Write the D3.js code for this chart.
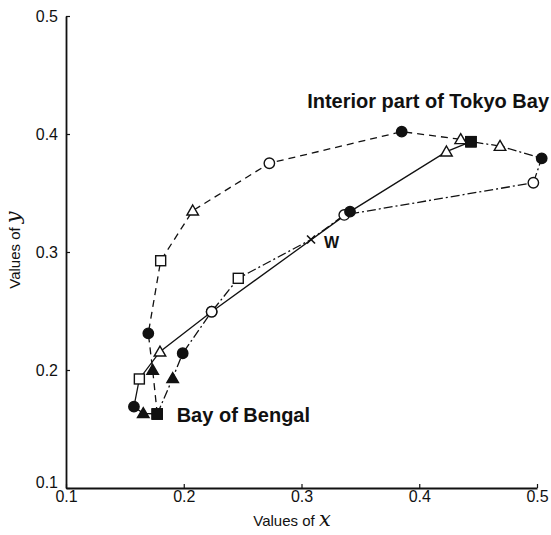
<!DOCTYPE html>
<html>
<head>
<meta charset="utf-8">
<script src="https://cdn.jsdelivr.net/npm/d3@7"></script>
<style>
  html, body { margin: 0; padding: 0; background: #fff; }
  svg { display: block; }
  text { font-family: "Liberation Sans", Arial, sans-serif; fill: #111; }
</style>
</head>
<body>
<div id="chart"></div>
<script>
// ---- data ----
const xTicks = [0.1, 0.2, 0.3, 0.4, 0.5];
const yTicks = [0.1, 0.2, 0.3, 0.4, 0.5];

// solid path (x, y, marker)
const solidX = [0.1775, 0.1656, 0.1577, 0.1623, 0.1798, 0.2237, 0.3412, 0.4231, 0.4439];
const solidY = [0.1627, 0.1633, 0.1689, 0.1924, 0.2155, 0.2494, 0.3342, 0.3850, 0.3935];
const solidM = ["fs", "ft", "fc", "os", "ot", "oc", "fc", "ot", "fs"];

// dashed path
const dashedX = [0.1775, 0.1736, 0.1699, 0.1804, 0.2076, 0.2727, 0.3851, 0.4352, 0.4439];
const dashedY = [0.1627, 0.2000, 0.2311, 0.2926, 0.3350, 0.3752, 0.4020, 0.3955, 0.3935];
const dashedM = ["fs", "ft", "fc", "os", "ot", "oc", "fc", "ot", "fs"];

// dash-dot path
const dashDotX = [0.1775, 0.1906, 0.1991, 0.2237, 0.2463, 0.3081, 0.3363, 0.4969, 0.5040, 0.4686, 0.4439];
const dashDotY = [0.1627, 0.1930, 0.2142, 0.2494, 0.2777, 0.3106, 0.3314, 0.3587, 0.3794, 0.3898, 0.3935];
const dashDotM = ["fs", "ft", "fc", "oc", "os", "x", "oc", "oc", "fc", "ot", "fs"];

const labels = ["Interior part of Tokyo Bay", "Bay of Bengal"];
const labelX = [0.3048, 0.1940];
const labelY = [0.4220, 0.1560];

// ---- chart ----
const W = 551, H = 535;
const svg = d3.select("#chart").append("svg").attr("width", W).attr("height", H);

const x = d3.scaleLinear().domain([0.1, 0.5]).range([66, 537]);
const y = d3.scaleLinear().domain([0.1, 0.5]).range([488, 16]);

// axes
const gx = svg.append("g").attr("transform", `translate(0,${y(0.1)})`)
  .call(d3.axisBottom(x).tickValues(xTicks).tickFormat(d3.format(".1f"))
    .tickSizeInner(-4).tickSizeOuter(0).tickPadding(3));
const gy = svg.append("g").attr("transform", `translate(${x(0.1)},0)`)
  .call(d3.axisLeft(y).tickValues(yTicks).tickFormat(d3.format(".1f"))
    .tickSizeInner(-4).tickSizeOuter(0).tickPadding(8));
[gx, gy].forEach(g => {
  g.select(".domain").attr("stroke", "#111").attr("stroke-width", 1.8);
  g.selectAll(".tick line").attr("stroke", "#111").attr("stroke-width", 1.2);
  g.selectAll(".tick text").attr("font-size", 16).attr("font-family", "Liberation Sans, Arial, sans-serif").attr("fill", "#111");
});
gy.selectAll(".tick text").attr("dy", d => d === 0.1 ? "-0.02em" : "0.32em");

// axis titles
const xt = svg.append("text").attr("x", 292).attr("y", 526).attr("text-anchor", "middle").attr("font-size", 15);
xt.append("tspan").text("Values of ");
xt.append("tspan").attr("font-family", "DejaVu Serif, serif").attr("font-style", "italic").attr("font-size", 21).text("x");

const yt = svg.append("text").attr("transform", `translate(20,250) rotate(-90)`).attr("text-anchor", "middle").attr("font-size", 15);
yt.append("tspan").text("Values of ");
yt.append("tspan").attr("font-family", "DejaVu Serif, serif").attr("font-style", "italic").attr("font-size", 21).text("y");

// lines
const line = d3.line().x(d => x(d[0])).y(d => y(d[1]));
function series(xs, ys, ms, dash) {
  const pts = xs.map((v, i) => [v, ys[i], ms[i]]);
  svg.append("path").datum(pts).attr("d", line).attr("fill", "none")
    .attr("stroke", "#111").attr("stroke-width", 1.3)
    .attr("stroke-dasharray", dash);
  return pts;
}
const all = [];
all.push(...series(dashDotX, dashDotY, dashDotM, "9,3,2,3"));
all.push(...series(dashedX, dashedY, dashedM, "7,5"));
all.push(...series(solidX, solidY, solidM, null));

// markers
const tri = d3.symbol().type(d3.symbolTriangle).size(58);
all.forEach(([vx, vy, m]) => {
  const cx = x(vx), cy = y(vy);
  const filled = m[0] === "f";
  const fill = filled ? "#111" : "#fff";
  if (m === "x") {
    svg.append("path").attr("d", `M${cx-4},${cy-4}L${cx+4},${cy+4}M${cx-4},${cy+4}L${cx+4},${cy-4}`)
      .attr("stroke", "#111").attr("stroke-width", 1.6);
    svg.append("text").attr("x", cx + 13).attr("y", cy + 9).attr("font-size", 16).attr("font-weight", "bold").text("W");
    return;
  }
  let s;
  if (m[1] === "c") s = svg.append("circle").attr("cx", cx).attr("cy", cy).attr("r", 5.2);
  else if (m[1] === "s") s = svg.append("rect").attr("x", cx - 5).attr("y", cy - 5).attr("width", 10).attr("height", 10);
  else s = svg.append("path").attr("d", tri()).attr("transform", `translate(${cx},${cy + 1})`);
  s.attr("fill", fill).attr("stroke", "#111").attr("stroke-width", 1.4);
});

// annotations
labels.forEach((t, i) => {
  svg.append("text").attr("x", x(labelX[i])).attr("y", y(labelY[i]))
    .attr("font-size", 20).attr("font-weight", "bold").text(t);
});
</script>
</body>
</html>
